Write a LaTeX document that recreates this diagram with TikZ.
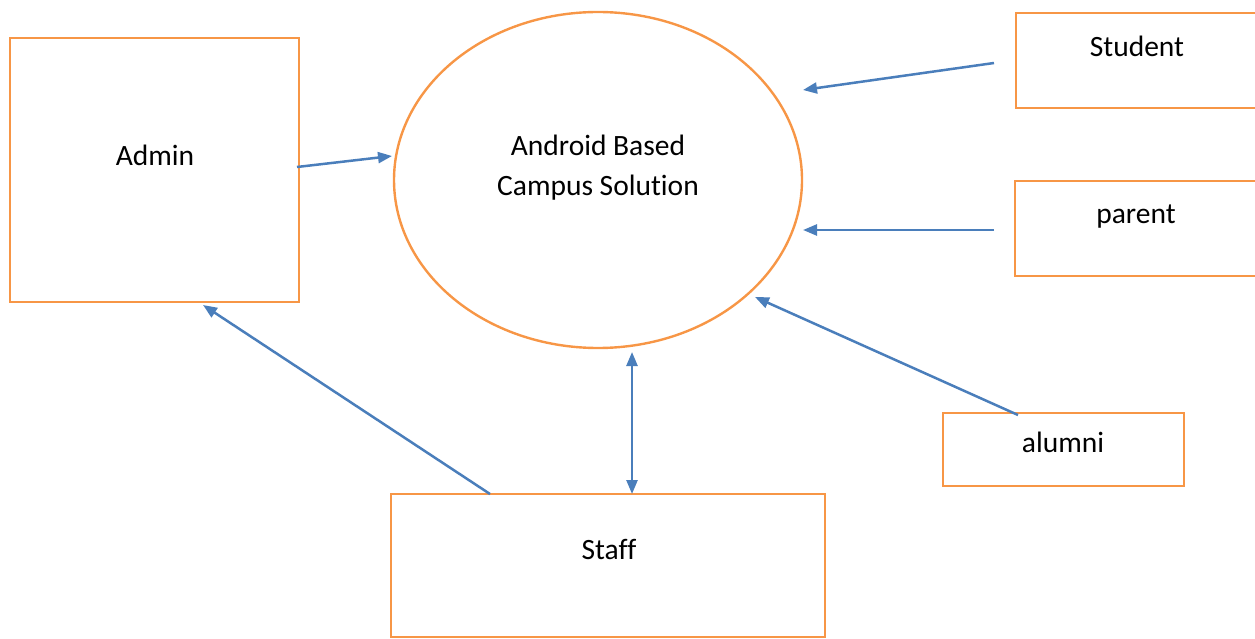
\documentclass[tikz,border=0pt]{standalone}
\usepackage{fontspec}
\setmainfont{Carlito}[Ligatures={NoCommon}]
\usetikzlibrary{arrows.meta,shapes.geometric}
\definecolor{boxorange}{HTML}{F79646}
\definecolor{arrowblue}{HTML}{4A7EBB}
\tikzset{
  entity/.style={draw=boxorange, line width=2.4pt, rectangle, inner sep=0pt},
  lbl/.style={anchor=base, font=\fontsize{29.5}{40}\selectfont, inner sep=0pt},
  flow/.style={draw=arrowblue, line width=2.5pt, -{Triangle[length=14pt,width=11pt]}},
  bflow/.style={draw=arrowblue, line width=2.5pt, {Triangle[length=14pt,width=11pt]}-{Triangle[length=14pt,width=11pt]}}
}
\begin{document}
\begin{tikzpicture}[x=1pt,y=-1pt]
\useasboundingbox (0,0) rectangle (1255,639);
\clip (0,0) rectangle (1255,639);
% boxes
\node[entity, minimum width=289pt, minimum height=264pt] (admin) at (154.5,170) {};
\node[entity, minimum width=250pt, minimum height=95pt] (student) at (1141,60.5) {};
\node[entity, minimum width=250pt, minimum height=95pt] (parent) at (1140,228.5) {};
\node[entity, minimum width=241pt, minimum height=73pt] (alumni) at (1063.5,449.5) {};
\node[entity, minimum width=434pt, minimum height=143pt] (staff) at (608,565.5) {};
\node[draw=boxorange, line width=2.4pt, ellipse, minimum width=408pt, minimum height=336pt, inner sep=0pt] (sys) at (598,180) {};
% labels
\node[lbl] (admint) at (155,165.5) {Admin};
\node[lbl] (studentt) at (1137,56.5) {Student};
\node[lbl] (parentt) at (1136,223.5) {parent};
\node[lbl] (alumnit) at (1063,452.5) {alumni};
\node[lbl] (stafft) at (609,559.5) {Staff};
\node[lbl] (syst1) at (598,155.5) {Android Based};
\node[lbl] (syst2) at (598,195.5) {Campus Solution};
% connector end points
\coordinate (a1s) at (297,167);
\coordinate (a1e) at (392,156);
\coordinate (s1s) at (994,63);
\coordinate (s1e) at (803,90);
\coordinate (p1s) at (994,230);
\coordinate (p1e) at (803,230);
\coordinate (al1s) at (1018,415);
\coordinate (al1e) at (755,297);
\coordinate (st1s) at (490,494);
\coordinate (st1e) at (203,305);
\coordinate (st2s) at (632,494);
\coordinate (st2e) at (632,352);
% connectors
\draw[flow] (a1s) -- (a1e);
\draw[flow] (s1s) -- (s1e);
\draw[flow] (p1s) -- (p1e);
\draw[flow] (al1s) -- (al1e);
\draw[flow] (st1s) -- (st1e);
\draw[bflow] (st2s) -- (st2e);
\end{tikzpicture}
\end{document}
